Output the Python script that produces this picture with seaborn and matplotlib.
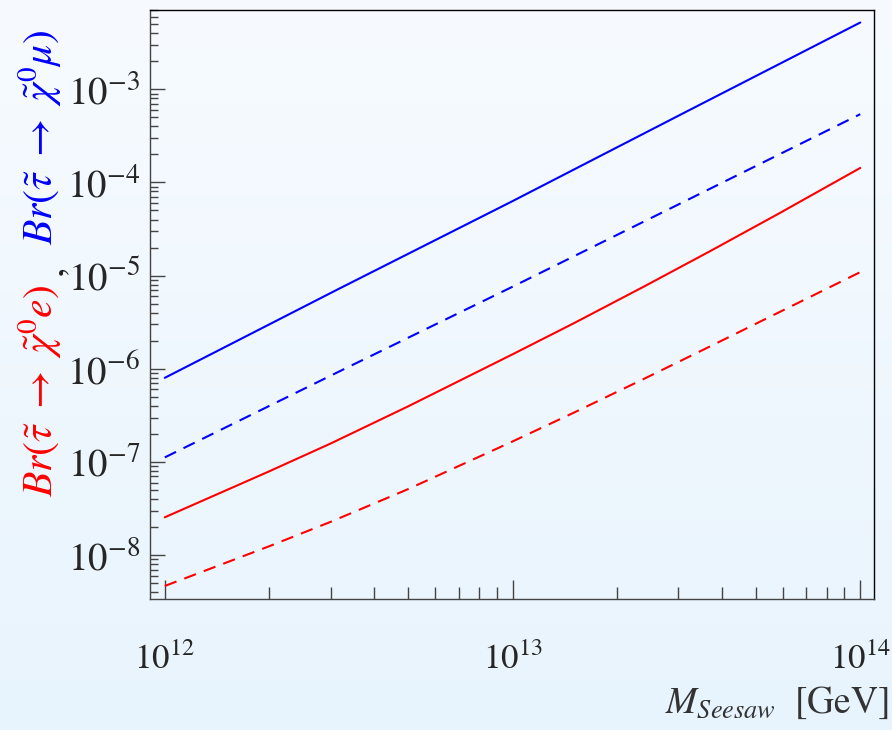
import numpy as np
import pandas as pd
import matplotlib
matplotlib.use("Agg")
import matplotlib.pyplot as plt
import seaborn as sns

# Datos (escala log-log)
m_azul = [1e12, 10**12.5, 1e13, 10**13.5, 1e14]
br_mu_solid = [8.0e-7, 7.2e-6, 6.3e-5, 5.75e-4, 5.2e-3]
br_mu_dashed = [1.12e-7, 9.3e-7, 7.6e-6, 6.4e-5, 5.4e-4]

m_rojo = [1e12, 2e12, 3e12, 5e12, 1e13, 1.5e13, 2.4e13, 3.7e13, 5.8e13, 1e14]
br_e_solid = [2.55e-8, 7.96e-8, 1.58e-7, 3.94e-7, 1.43e-6, 3.08e-6, 7.71e-6, 1.83e-5, 4.58e-5, 1.43e-4]
br_e_dashed = [4.67e-9, 1.25e-8, 2.28e-8, 5.1e-8, 1.66e-7, 3.38e-7, 7.87e-7, 1.74e-6, 3.99e-6, 1.09e-5]

sns.set_theme(style="ticks")
plt.rcParams['font.family'] = ['STIXGeneral', 'DejaVu Serif']
plt.rcParams['mathtext.fontset'] = 'stix'

fig = plt.figure(figsize=(8.92, 7.30), dpi=100)

# Fondo degradado
bg = fig.add_axes([0, 0, 1, 1], zorder=-10)
grad = np.linspace(0, 1, 256).reshape(-1, 1)
top_c = np.array([247, 251, 255]) / 255
bot_c = np.array([232, 244, 253]) / 255
img = top_c[None, None, :] * (1 - grad[:, :, None]) + bot_c[None, None, :] * grad[:, :, None]
bg.imshow(img, aspect='auto', extent=[0, 1, 0, 1])
bg.set_axis_off()

ax = fig.add_axes([0.168, 0.1795, 0.812, 0.8065])
ax.set_facecolor('none')

curvas = [
    (m_azul, br_mu_solid, 'blue', '-'),
    (m_azul, br_mu_dashed, 'blue', '--'),
    (m_rojo, br_e_solid, 'red', '-'),
    (m_rojo, br_e_dashed, 'red', '--'),
]
for xs, vals, col, ls in curvas:
    df = pd.DataFrame({'M': xs, 'Br': vals})
    sns.lineplot(data=df, x='M', y='Br', color=col, linestyle=ls, lw=1.5, ax=ax)

for line in ax.lines:
    if line.get_linestyle() == '--':
        line.set_dashes((6, 4))

ax.set_xscale('log')
ax.set_yscale('log')
ax.set_xlim(10**11.957, 10**14.04)
ax.set_ylim(10**-8.47, 10**-2.152)
ax.set_xlabel('')
ax.set_ylabel('')

ax.tick_params(axis='y', which='major', direction='in', length=11, width=1, color='#444444', pad=7, labelsize=28)
ax.tick_params(axis='y', which='minor', direction='in', length=6, width=1, color='#444444')
ax.tick_params(axis='x', which='major', direction='in', length=14, width=1, color='#444444', pad=32, labelsize=25)
ax.tick_params(axis='x', which='minor', direction='in', length=9, width=1, color='#444444')
ax.tick_params(top=False, right=False, which='both')
for s in ['left', 'bottom']:
    ax.spines[s].set_color('#444444')
for s in ['top', 'right']:
    ax.spines[s].set_color('black')
for s in ax.spines.values():
    s.set_linewidth(1)

# Etiqueta del eje y en dos colores
fig.text(0.045, 0.319, r'$Br(\tilde{\tau}\ \rightarrow\ \tilde{\chi}^0 e)$', color='red',
         rotation=90, ha='center', va='bottom', fontsize=30)
fig.text(0.058, 0.63, ',', color='#222222', rotation=90, ha='center', va='center', fontsize=30)
fig.text(0.045, 0.959, r'$Br(\tilde{\tau}\ \rightarrow\ \tilde{\chi}^0 \mu)$', color='blue',
         rotation=90, ha='center', va='top', fontsize=30)

fig.text(0.996, 0.012, r'$M_{Seesaw}\ $ [GeV]', color='#333333', ha='right', va='bottom', fontsize=27)

fig.savefig('out.png', dpi=100)
